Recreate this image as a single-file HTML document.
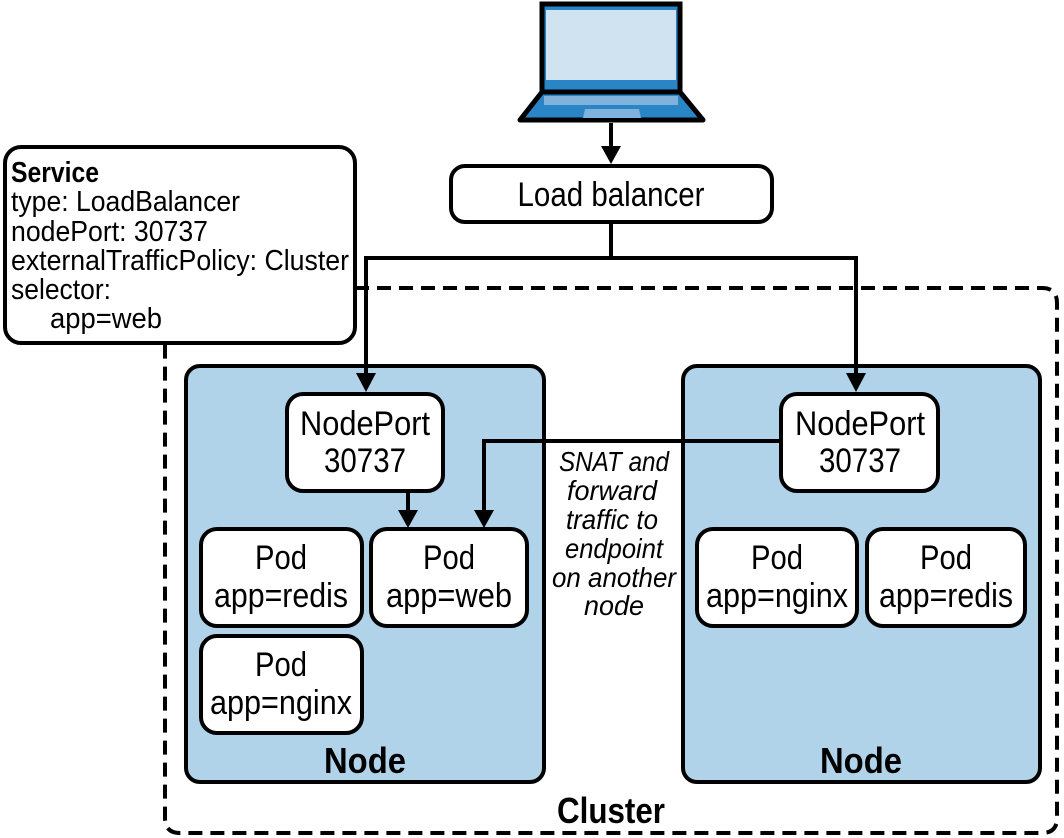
<!DOCTYPE html>
<html><head><meta charset="utf-8"><style>
html,body{margin:0;padding:0;background:#fff;width:1064px;height:838px;overflow:hidden}
svg{display:block}
text{font-family:"Liberation Sans",sans-serif;fill:#000}
</style></head><body>
<svg width="1064" height="838" viewBox="0 0 1064 838" xmlns="http://www.w3.org/2000/svg">
<!-- laptop -->
<rect x="542" y="4" width="138" height="89" fill="#2a85c7" stroke="#000" stroke-width="5"/>
<rect x="546" y="10" width="130" height="70" fill="#cfe3f0"/>
<path d="M542,92 L520,120 L703,120 L680,92 Z" fill="#2a85c7" stroke="#000" stroke-width="5" stroke-linejoin="round"/>
<rect x="544" y="96" width="134" height="9" fill="#7fb2dd"/>
<path d="M585,109 L639,109 L641,118 L583,118 Z" fill="#7fb2dd"/>
<!-- laptop to LB -->
<line x1="611" y1="123" x2="611" y2="150" stroke="#000" stroke-width="4"/>
<path d="M601,146 L621,146 L611,164 Z" fill="#000"/>
<!-- cluster dashed -->
<path d="M355,288 L1042,288 Q1057,288 1057,303 L1057,818 Q1057,833 1042,833 L180,833 Q165,833 165,818 L165,343" fill="none" stroke="#000" stroke-width="4" stroke-dasharray="14,8"/>
<!-- service box -->
<rect x="5" y="147" width="350" height="196" rx="16" fill="#fff" stroke="#000" stroke-width="4"/>
<text x="11" y="182" font-size="29" font-weight="bold" textLength="88" lengthAdjust="spacingAndGlyphs">Service</text>
<text x="11" y="211" font-size="29" textLength="229" lengthAdjust="spacingAndGlyphs">type: LoadBalancer</text>
<text x="11" y="241" font-size="29" textLength="197" lengthAdjust="spacingAndGlyphs">nodePort: 30737</text>
<text x="11" y="270" font-size="29" textLength="338" lengthAdjust="spacingAndGlyphs">externalTrafficPolicy: Cluster</text>
<text x="11" y="299" font-size="29" textLength="100" lengthAdjust="spacingAndGlyphs">selector:</text>
<text x="50" y="328" font-size="29" textLength="112" lengthAdjust="spacingAndGlyphs">app=web</text>
<!-- LB -->
<rect x="451" y="166" width="321" height="56" rx="14" fill="#fff" stroke="#000" stroke-width="4"/>
<text x="611" y="206" font-size="34" text-anchor="middle" textLength="187" lengthAdjust="spacingAndGlyphs">Load balancer</text>
<!-- nodes -->
<rect x="186" y="366" width="358" height="416" rx="14" fill="#b0d3ea" stroke="#000" stroke-width="4"/>
<rect x="683" y="366" width="357" height="416" rx="14" fill="#b0d3ea" stroke="#000" stroke-width="4"/>
<!-- LB lines -->
<path d="M611,222 L611,258 M366,258 L856,258 M366,256 L366,375 M856,256 L856,375" fill="none" stroke="#000" stroke-width="4"/>
<path d="M356,373 L376,373 L366,392 Z" fill="#000"/>
<path d="M846,373 L866,373 L856,392 Z" fill="#000"/>
<text x="365" y="773" font-size="36" font-weight="bold" text-anchor="middle" textLength="82" lengthAdjust="spacingAndGlyphs">Node</text>
<text x="861" y="773" font-size="36" font-weight="bold" text-anchor="middle" textLength="82" lengthAdjust="spacingAndGlyphs">Node</text>
<text x="611" y="823" font-size="36" font-weight="bold" text-anchor="middle" textLength="108" lengthAdjust="spacingAndGlyphs">Cluster</text>
<!-- nodeports -->
<rect x="287" y="394" width="156" height="97" rx="16" fill="#fff" stroke="#000" stroke-width="4"/>
<text x="365" y="435" font-size="34" text-anchor="middle" textLength="130" lengthAdjust="spacingAndGlyphs">NodePort</text>
<text x="365" y="472" font-size="34" text-anchor="middle" textLength="82" lengthAdjust="spacingAndGlyphs">30737</text>
<rect x="781" y="394" width="157" height="97" rx="16" fill="#fff" stroke="#000" stroke-width="4"/>
<text x="860" y="435" font-size="34" text-anchor="middle" textLength="130" lengthAdjust="spacingAndGlyphs">NodePort</text>
<text x="860" y="472" font-size="34" text-anchor="middle" textLength="82" lengthAdjust="spacingAndGlyphs">30737</text>
<!-- internal arrows -->
<path d="M408,491 L408,512 M781,441 L484,441 L484,512" fill="none" stroke="#000" stroke-width="4"/>
<path d="M398,510 L418,510 L408,528 Z" fill="#000"/>
<path d="M474,510 L494,510 L484,528 Z" fill="#000"/>
<!-- pods -->
<g fill="#fff" stroke="#000" stroke-width="4">
<rect x="201" y="529" width="161" height="97" rx="16"/>
<rect x="371" y="529" width="156" height="97" rx="16"/>
<rect x="201" y="636" width="161" height="97" rx="16"/>
<rect x="697" y="529" width="160" height="97" rx="16"/>
<rect x="867" y="529" width="158" height="97" rx="16"/>
</g>
<g font-size="34" text-anchor="middle">
<text x="281" y="569" textLength="52" lengthAdjust="spacingAndGlyphs">Pod</text><text x="281" y="607" textLength="134" lengthAdjust="spacingAndGlyphs">app=redis</text>
<text x="449" y="569" textLength="52" lengthAdjust="spacingAndGlyphs">Pod</text><text x="449" y="607" textLength="126" lengthAdjust="spacingAndGlyphs">app=web</text>
<text x="281" y="676" textLength="52" lengthAdjust="spacingAndGlyphs">Pod</text><text x="281" y="714" textLength="142" lengthAdjust="spacingAndGlyphs">app=nginx</text>
<text x="777" y="569" textLength="52" lengthAdjust="spacingAndGlyphs">Pod</text><text x="777" y="607" textLength="142" lengthAdjust="spacingAndGlyphs">app=nginx</text>
<text x="946" y="569" textLength="52" lengthAdjust="spacingAndGlyphs">Pod</text><text x="946" y="607" textLength="134" lengthAdjust="spacingAndGlyphs">app=redis</text>
</g>
<!-- SNAT label -->
<g font-size="28" font-style="italic" text-anchor="middle">
<text x="614" y="471" textLength="110" lengthAdjust="spacingAndGlyphs">SNAT and</text>
<text x="612" y="500" textLength="90" lengthAdjust="spacingAndGlyphs">forward</text>
<text x="612" y="529" textLength="92" lengthAdjust="spacingAndGlyphs">traffic to</text>
<text x="614" y="558" textLength="98" lengthAdjust="spacingAndGlyphs">endpoint</text>
<text x="614" y="587" textLength="124" lengthAdjust="spacingAndGlyphs">on another</text>
<text x="614" y="615" textLength="60" lengthAdjust="spacingAndGlyphs">node</text>
</g>
</svg>
</body></html>
